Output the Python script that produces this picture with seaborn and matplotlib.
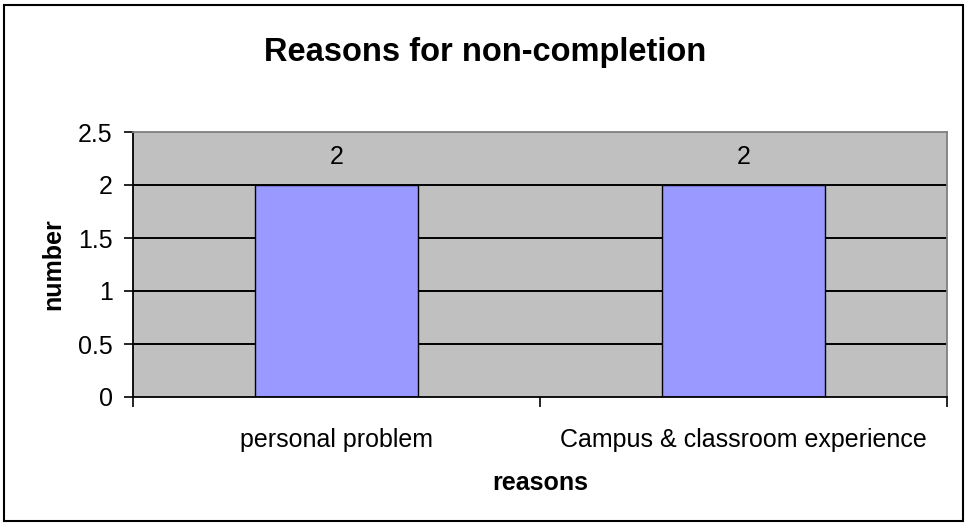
import matplotlib
matplotlib.use('Agg')
import matplotlib.pyplot as plt
import seaborn as sns
import pandas as pd
from matplotlib.patches import Rectangle

reasons = ['personal problem', 'Campus & classroom experience']
counts = [2, 2]
y_ticks = [0, 0.5, 1, 1.5, 2, 2.5]
y_tick_labels = ['0', '0.5', '1', '1.5', '2', '2.5']

df = pd.DataFrame({'reasons': reasons, 'number': counts})

sns.set_style('white')
plt.rcParams['font.family'] = ['Liberation Sans', 'DejaVu Sans']
plt.rcParams['text.color'] = 'black'
plt.rcParams['axes.labelcolor'] = 'black'
plt.rcParams['xtick.color'] = 'black'
plt.rcParams['ytick.color'] = 'black'

fig = plt.figure(figsize=(9.7, 5.26), dpi=100)
W, H = 970, 526
ax = fig.add_axes([133 / W, 1 - 397 / H, (947 - 133) / W, (397 - 132) / H])
ax.set_facecolor('#C0C0C0')

sns.barplot(data=df, x='reasons', y='number', color='#9999FF', width=0.4,
            edgecolor='black', linewidth=1.0, saturation=1, ax=ax, zorder=3)

ax.set_xlim(-0.5, 1.5)
ax.set_ylim(0, 2.5)
ax.set_yticks(y_ticks)
ax.set_yticklabels(y_tick_labels, fontsize=18)
for v in y_ticks[1:-1]:
    ax.axhline(v, color='black', lw=1.4, zorder=1)

ax.set_xticks([0, 1])
ax.set_xticklabels(reasons, fontsize=18)
ax.tick_params(axis='x', which='major', length=0, pad=22)
ax.set_xticks([-0.5, 0.5, 1.5], minor=True)
ax.tick_params(axis='x', which='minor', bottom=True, length=7, width=1.2,
               color='black', direction='out')
ax.tick_params(axis='y', length=6.5, width=1.2, color='black', direction='out',
               pad=8, left=True)

for i, c in enumerate(counts):
    ax.text(i, c + 0.15, str(c), ha='center', va='bottom', fontsize=18, zorder=4)

for side in ['left', 'bottom']:
    ax.spines[side].set_color('black')
    ax.spines[side].set_linewidth(1.3)
for side in ['top', 'right']:
    ax.spines[side].set_color('#808080')
    ax.spines[side].set_linewidth(1.3)
ax.spines['bottom'].set_zorder(5)

ax.set_xlabel('reasons', fontsize=18, fontweight='bold', labelpad=14)
ax.set_ylabel('number', fontsize=18, fontweight='bold', labelpad=9)

fig.text(0.5, 1 - 53 / H, 'Reasons for non-completion', ha='center', va='center',
         fontsize=23.5, fontweight='bold')

fig.patches.append(Rectangle((4 / W, 5 / H), (963 - 4) / W, (521 - 5) / H,
                             transform=fig.transFigure, fill=False,
                             edgecolor='black', linewidth=1.5))

fig.savefig('out.png', dpi=100)
